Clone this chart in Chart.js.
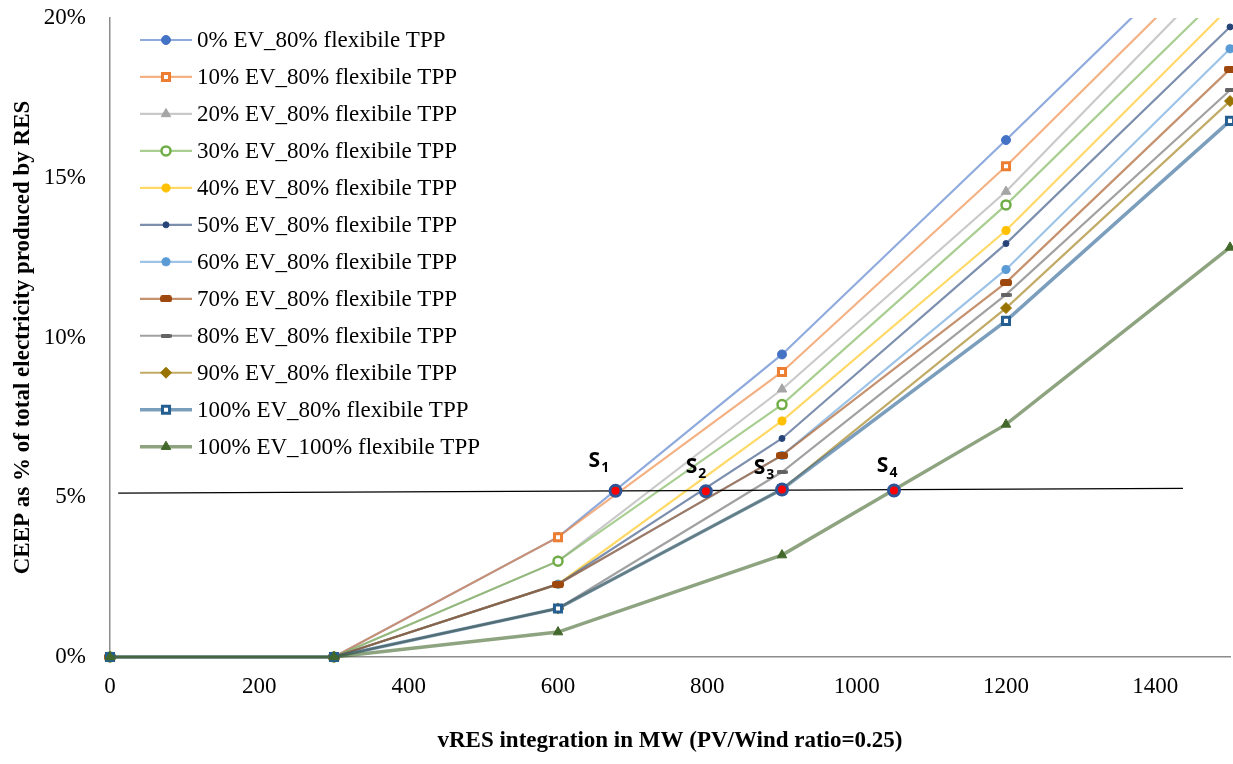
<!DOCTYPE html>
<html>
<head>
<meta charset="utf-8">
<script src="https://cdn.jsdelivr.net/npm/chart.js@4.4.1/dist/chart.umd.min.js"></script>
<style>
  html, body { margin: 0; padding: 0; background: #fff; }
</style>
</head>
<body>
<canvas id="ceepChart" width="1233" height="764"></canvas>
<script>
// vRES integration steps (MW)
const mwSteps = [0, 300, 600, 900, 1200, 1500];

const seriesNames = [
  '0% EV_80% flexibile TPP',
  '10% EV_80% flexibile TPP',
  '20% EV_80% flexibile TPP',
  '30% EV_80% flexibile TPP',
  '40% EV_80% flexibile TPP',
  '50% EV_80% flexibile TPP',
  '60% EV_80% flexibile TPP',
  '70% EV_80% flexibile TPP',
  '80% EV_80% flexibile TPP',
  '90% EV_80% flexibile TPP',
  '100% EV_80% flexibile TPP',
  '100% EV_100% flexibile TPP',
];

// CEEP in % of RES electricity
const ev0 = [0, 0, 3.75, 9.47, 16.18, 23.0];
const ev10 = [0, 0, 3.75, 8.92, 15.36, 22.3];
const ev20 = [0, 0, 3.0, 8.38, 14.57, 21.75];
const ev30 = [0, 0, 3.0, 7.9, 14.15, 21.0];
const ev40 = [0, 0, 2.28, 7.39, 13.35, 20.35];
const ev50 = [0, 0, 2.28, 6.84, 12.94, 19.72];
const ev60 = [0, 0, 2.28, 6.31, 12.13, 19.04];
const ev70 = [0, 0, 2.28, 6.31, 11.72, 18.4];
const ev80 = [0, 0, 1.52, 5.79, 11.34, 17.74];
const ev90 = [0, 0, 1.52, 5.25, 10.92, 17.4];
const ev100 = [0, 0, 1.52, 5.25, 10.52, 16.78];
const ev100flex100 = [0, 0, 0.78, 3.19, 7.28, 12.82];

const allSeries = [ev0, ev10, ev20, ev30, ev40, ev50, ev60, ev70, ev80, ev90, ev100, ev100flex100];

// 5% CEEP threshold line and crossing points
const thresholdX = [11, 1437];
const thresholdY = [5.13, 5.28];
const crossNames = ['1', '2', '3', '4'];
const crossX = [677, 798, 900, 1050];
const crossY = [5.2, 5.19, 5.24, 5.21];
const crossLabelX = [641, 771, 862, 1027];
const crossLabelY = [5.94, 5.75, 5.72, 5.78];

const yTicksStep = 5;
const xTicksStep = 200;

const serif = '"Liberation Serif", "Times New Roman", serif';
const axisGray = '#8c8c8c';

// small bar markers (Excel style dash), drawn once as images
function barMarker(color, w, h) {
  const c = document.createElement('canvas');
  c.width = w;
  c.height = h;
  const g = c.getContext('2d');
  g.fillStyle = color;
  g.beginPath();
  g.roundRect(0, 0, w, h, h / 2.5);
  g.fill();
  return c;
}

const seriesStyles = [
  { color: '#4472C4', shape: 'circle', radius: 4.5, pbw: 1, fill: null, width: 2.2 },
  { color: '#ED7D31', shape: 'rect', radius: 5, pbw: 3, fill: '#ffffff', width: 2.2 },
  { color: '#A5A5A5', shape: 'triangle', radius: 5.5, pbw: 1, fill: null, width: 2.2 },
  { color: '#70AD47', shape: 'circle', radius: 4.5, pbw: 2.5, fill: '#ffffff', width: 2.2 },
  { color: '#FFC000', shape: 'star', radius: 4.5, pbw: 3, fill: null, width: 2.2 },
  { color: '#264478', shape: 'circle', radius: 3, pbw: 1, fill: null, width: 2.2 },
  { color: '#5B9BD5', shape: 'star', radius: 4.5, pbw: 3, fill: null, width: 2.2 },
  { color: '#9E480E', shape: barMarker('#9E480E', 12, 7), radius: 6, pbw: 0, fill: null, width: 2.2 },
  { color: '#636363', shape: barMarker('#636363', 11, 4), radius: 6, pbw: 0, fill: null, width: 2.2 },
  { color: '#997300', shape: 'rectRot', radius: 5.5, pbw: 1, fill: null, width: 2.2 },
  { color: '#255E91', shape: 'rect', radius: 5, pbw: 3, fill: '#ffffff', width: 3.5 },
  { color: '#43682B', shape: 'triangle', radius: 5.5, pbw: 1, fill: null, width: 3.5 },
];

function fade(hex, a) {
  const r = parseInt(hex.slice(1, 3), 16);
  const g = parseInt(hex.slice(3, 5), 16);
  const b = parseInt(hex.slice(5, 7), 16);
  return `rgba(${r}, ${g}, ${b}, ${a})`;
}

function makeSeries(values, idx) {
  const st = seriesStyles[idx];
  return {
    label: seriesNames[idx],
    data: mwSteps.map((x, i) => ({ x, y: values[i] })),
    borderColor: fade(st.color, 0.6),
    borderWidth: st.width,
    pointStyle: st.shape,
    pointRadius: st.radius,
    pointBorderWidth: st.pbw,
    pointBorderColor: st.color,
    pointBackgroundColor: st.fill || st.color,
    order: 100 - idx,
    clip: { left: 12, right: 12, top: 0, bottom: 12 },
  };
}

const datasets = allSeries.map(makeSeries);

datasets.push({
  label: 'threshold',
  hideInLegend: true,
  data: thresholdX.map((x, i) => ({ x, y: thresholdY[i] })),
  borderColor: '#000000',
  borderWidth: 1.3,
  pointRadius: 0,
  order: 2,
});

datasets.push({
  label: 'crossings',
  hideInLegend: true,
  data: crossX.map((x, i) => ({ x, y: crossY[i] })),
  showLine: false,
  pointStyle: 'circle',
  pointRadius: 5.5,
  pointBorderWidth: 3,
  pointBorderColor: '#2F5597',
  pointBackgroundColor: '#FF0000',
  order: 1,
});

// Legend drawn inside the plot area, top-left
const insideLegend = {
  id: 'insideLegend',
  afterDraw(chart) {
    const ctx = chart.ctx;
    let row = 0;
    ctx.save();
    chart.data.datasets.forEach(ds => {
      if (ds.hideInLegend) return;
      const y = 40 + row * 36.97;
      ctx.strokeStyle = ds.borderColor;
      ctx.lineWidth = ds.borderWidth;
      ctx.beginPath();
      ctx.moveTo(140, y);
      ctx.lineTo(192, y);
      ctx.stroke();
      ctx.fillStyle = ds.pointBackgroundColor;
      ctx.strokeStyle = ds.pointBorderColor;
      ctx.lineWidth = ds.pointBorderWidth;
      Chart.helpers.drawPoint(ctx, {
        pointStyle: ds.pointStyle,
        radius: ds.pointRadius,
        borderWidth: ds.pointBorderWidth,
        rotation: 0,
      }, 166, y);
      ctx.fillStyle = '#000000';
      ctx.font = `23px ${serif}`;
      ctx.textBaseline = 'middle';
      ctx.textAlign = 'left';
      ctx.fillText(ds.label, 197, y + 1);
      row++;
    });
    ctx.restore();
  },
};

// S1..S4 labels next to the crossing points
const crossLabels = {
  id: 'crossLabels',
  afterDatasetsDraw(chart) {
    const { ctx, scales } = chart;
    ctx.save();
    ctx.fillStyle = '#000000';
    ctx.textBaseline = 'alphabetic';
    ctx.textAlign = 'left';
    crossNames.forEach((n, i) => {
      const px = scales.x.getPixelForValue(crossLabelX[i]);
      const py = scales.y.getPixelForValue(crossLabelY[i]);
      ctx.font = 'bold 21px "Open Sans", sans-serif';
      ctx.fillText('S', px, py);
      const w = ctx.measureText('S').width;
      ctx.font = 'bold 14px "Open Sans", sans-serif';
      ctx.fillText(n, px + w + 1, py + 5);
    });
    ctx.restore();
  },
};

const ctx = document.getElementById('ceepChart').getContext('2d');
window.ceepChart = new Chart(ctx, {
  type: 'line',
  data: { datasets },
  options: {
    responsive: false,
    animation: false,
    layout: { autoPadding: false, padding: { top: 18, right: 3, left: 0, bottom: 0 } },
    plugins: {
      legend: { display: false },
      tooltip: { enabled: false },
    },
    scales: {
      x: {
        type: 'linear',
        min: 0,
        max: 1500,
        grid: { display: false, drawTicks: false },
        border: { display: true, color: axisGray, width: 1.5 },
        ticks: {
          stepSize: xTicksStep,
          includeBounds: false,
          padding: 16,
          color: '#000000',
          font: { family: serif, size: 23 },
          callback: v => String(v),
        },
        title: {
          display: true,
          text: 'vRES integration in MW (PV/Wind ratio=0.25)',
          color: '#000000',
          font: { family: serif, size: 23, weight: 'bold' },
          padding: { top: 0, bottom: 9 },
        },
        afterFit: scale => {
          scale.height = 107;
          scale.paddingLeft = 0;
          scale.paddingRight = 0;
        },
      },
      y: {
        type: 'linear',
        min: 0,
        max: 20,
        grid: { display: false, drawTicks: false },
        border: { display: true, color: axisGray, width: 1.5 },
        ticks: {
          stepSize: yTicksStep,
          padding: 24,
          color: '#000000',
          font: { family: serif, size: 23 },
          callback: v => v + '%',
        },
        title: {
          display: true,
          text: 'CEEP as % of total electricity produced by RES',
          color: '#000000',
          font: { family: serif, size: 23, weight: 'bold' },
          padding: { top: 9, bottom: 0 },
        },
        afterFit: scale => {
          scale.width = 110;
          scale.paddingTop = 0;
          scale.paddingBottom = 0;
        },
      },
    },
  },
  plugins: [crossLabels, insideLegend],
});
</script>
</body>
</html>
